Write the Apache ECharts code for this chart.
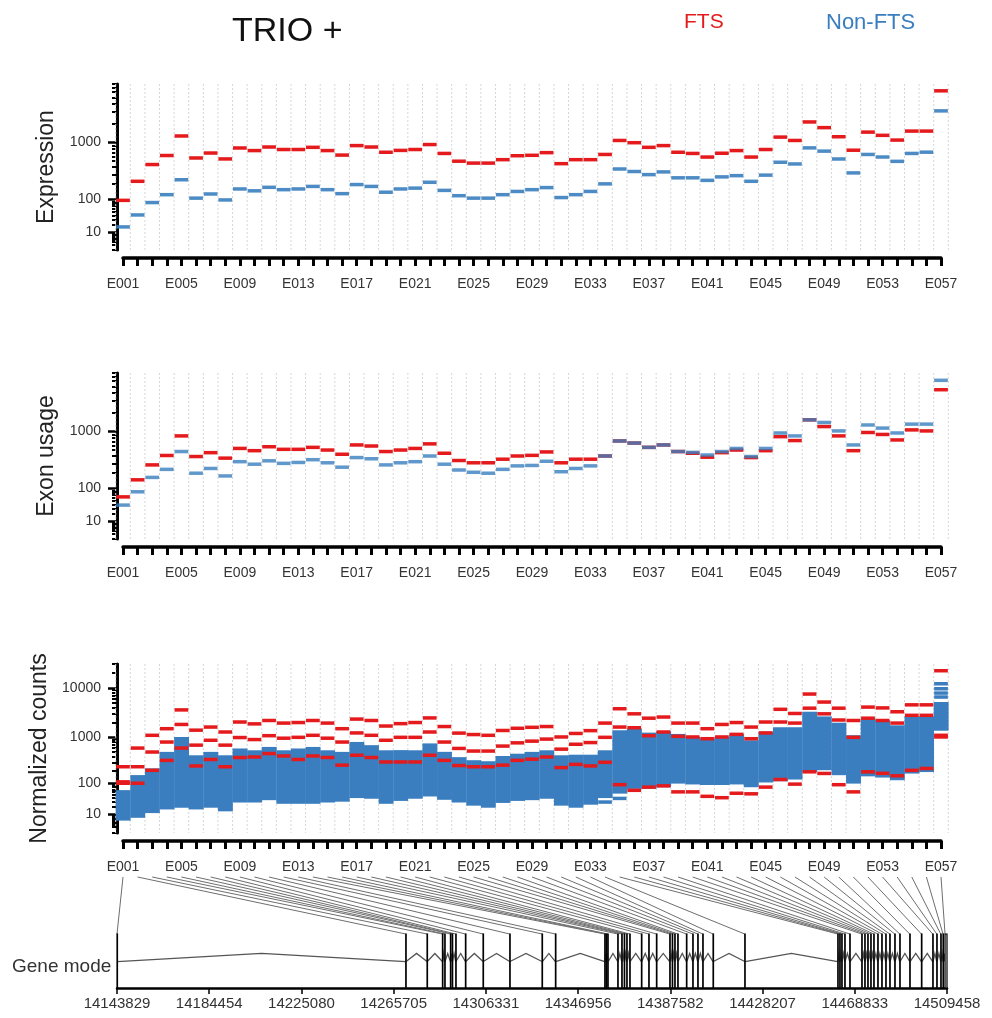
<!DOCTYPE html>
<html><head><meta charset="utf-8">
<script src="https://cdn.jsdelivr.net/npm/echarts@6/dist/echarts.min.js"></script>
<style>html,body{margin:0;padding:0;background:#fff}#c{width:992px;height:1018px}</style>
</head><body><div id="c"></div>
<script>
// ---------------- data ----------------
const exonLabels = Array.from({length: 57}, (_, i) => 'E' + String(i + 1).padStart(3, '0'));

const expFTS = [95,225,440,620,1270,565,680,545,820,745,850,775,775,840,745,630,895,850,700,750,775,930,670,500,465,465,530,615,625,690,455,530,530,645,1080,995,840,895,700,670,585,675,745,585,775,1220,1080,2100,1715,1235,755,1460,1300,1095,1515,1515,6300];
const expNon = [17,42,85,125,240,106,129,97,162,149,174,157,162,181,157,131,196,181,140,162,168,216,152,119,106,106,125,145,157,172,109,125,145,202,370,335,296,330,260,260,234,270,284,225,290,480,450,823,730,544,317,645,586,497,670,702,3110];

const useFTS = [64,149,281,408,853,392,455,368,535,491,570,517,517,557,503,428,610,586,475,503,535,635,445,335,306,306,353,400,410,468,306,353,353,400,708,655,557,610,475,445,382,455,503,376,491,830,718,1530,1200,853,491,967,900,735,1063,1024,4450];
const useNon = [39,84,166,234,475,199,243,177,320,289,331,299,310,346,306,256,376,359,281,306,320,400,289,228,207,199,234,270,275,325,212,243,270,400,708,655,557,610,475,460,416,475,535,392,535,950,853,1530,1390,1024,610,1270,1135,950,1310,1310,6190];

// normalized counts: three FTS samples
const ncFTS1 = [240,600,1100,1500,3600,1400,1620,1285,2050,1880,2200,1950,2000,2200,1950,1500,2350,2200,1700,1900,2000,2480,1660,1220,1140,1100,1380,1530,1600,1660,1017,1200,1370,1950,3800,3000,2450,2585,1950,1950,1500,1830,2000,1620,2050,3700,3050,7500,5180,3900,2200,4100,3950,3300,4550,4550,22000];
const ncFTS2 = [108,240,496,800,1830,690,870,690,990,900,1080,960,1000,1100,960,800,1230,1100,870,1000,1000,1285,800,590,520,520,660,770,835,920,570,720,780,1000,1620,1570,1080,1285,1050,1017,937,1017,1150,937,1230,2050,1950,3900,3000,2250,1000,2450,2200,1950,2800,2800,1100];
const ncFTS3 = [100,100,200,330,600,250,345,240,380,390,460,410,345,410,380,260,425,380,305,305,305,425,330,255,240,240,260,330,350,390,230,270,250,300,92,66,80,86,60,60,45,41,55,53,80,123,95,185,170,92,60,185,171,150,200,220,1017];
// normalized counts: range covered by the Non-FTS samples
const ncNonLow = [5.5,8,13.5,19,22,19,22,16,33,33,39,30,30,30,33,35,45,43,30,37,43,50,40,33,26,22,32,37,39,43,26,22,28,45,60,80,80,88,108,103,100,100,103,88,115,123,135,200,220,170,108,160,150,130,185,200,1480];
const ncNonHigh = [60,142,202,459,937,389,459,389,541,496,583,496,541,583,496,459,740,634,496,500,496,690,460,355,305,290,375,420,459,496,389,400,400,496,1285,1390,1150,1230,1080,937,870,937,1080,800,1200,1480,1480,3050,2450,1830,1017,2250,2050,1620,2450,2450,4790];
const ncNonExtra = [[57,12060],[57,9580],[57,7850],[57,6530],[35,39],[34,30]];

// gene model (genomic coordinates)
const exonStart = [14143829,14271010,14280393,14287177,14288191,14290702,14291495,14293037,14297310,14305063,14316825,14331054,14336957,14358676,14359336,14359997,14364402,14366164,14367266,14368367,14369689,14374843,14378059,14381451,14387310,14388411,14389513,14390834,14394667,14397442,14399645,14401849,14406385,14420350,14461319,14462200,14463082,14464404,14466607,14471893,14473213,14474535,14475856,14477178,14478940,14480702,14482464,14484227,14486429,14488632,14493037,14498191,14503169,14504931,14506694,14507700,14508600];
const exonEnd = [14144010,14271190,14280520,14287290,14288330,14290850,14291600,14293160,14297450,14305200,14316960,14331200,14337120,14358900,14359560,14360220,14364560,14366300,14367400,14368500,14369830,14374990,14378200,14381600,14387480,14388560,14389660,14390990,14394800,14397580,14399780,14401990,14406530,14420500,14461480,14462340,14463220,14464540,14466760,14472040,14473350,14474670,14475990,14477320,14479080,14480840,14482600,14484370,14486570,14488780,14493180,14498340,14503320,14505080,14506840,14507900,14509458];
const geneTicks = [14143829,14184454,14225080,14265705,14306331,14346956,14387582,14428207,14468833,14509458];

const majorTicksA = [10, 100, 1000];
const majorTicksB = [10, 100, 1000, 10000];
const axisMaxA = 8000, axisMaxB = 30000;

// ---------------- helpers ----------------
const FONT = "'Liberation Sans', Arial, sans-serif";
const RED = '#e41a1c', BLUE = '#3a7ebf';
const tfA = v => Math.asinh(Math.sqrt(0.01 * v));   // variance-stabilised scale (panels 1-2)
const tfB = v => Math.asinh(Math.sqrt(0.02 * v));   // variance-stabilised scale (panel 3)

const exonIdx = exonLabels.map((_, i) => i + 1);
const labelIdx = exonIdx.filter(i => (i - 1) % 4 === 0);
const boundaries = [0].concat(exonIdx).map(i => i + 0.5);
function minorTicks(maxV) {
  const out = [0, 1];
  for (let d = 1; d <= maxV; d *= 10) for (let m = 2; m <= 9; m++) { const v = m * d; if (v <= maxV) out.push(v); }
  return out;
}

function xAxisPanel(gi) {
  return {
    type: 'value', gridIndex: gi, min: 1, max: 57, offset: 8,
    axisLine: {show: true, onZero: false, lineStyle: {color: '#000', width: 3.5}},
    axisTick: {show: true, customValues: exonIdx, length: 8, lineStyle: {color: '#000', width: 3}},
    axisLabel: {show: true, customValues: labelIdx, formatter: v => exonLabels[Math.round(v) - 1],
      margin: 19, fontSize: 14, color: '#333', fontFamily: FONT},
    splitLine: {show: false}
  };
}
function yAxesPanel(gi, tf, maxV, majors, name) {
  const mj = majors.map(tf);
  return [{
    type: 'value', gridIndex: gi, min: 0, max: tf(maxV), offset: 6, position: 'left',
    name: name, nameLocation: 'middle', nameGap: 59, nameRotate: 90,
    nameTextStyle: {fontSize: 23, color: '#222', fontFamily: FONT},
    axisLine: {show: true, onZero: false, lineStyle: {color: '#000', width: 3}},
    axisTick: {show: true, customValues: mj, length: 9, lineStyle: {color: '#000', width: 2.5}},
    axisLabel: {show: true, customValues: mj, margin: 16, fontSize: 14, color: '#333', fontFamily: FONT,
      formatter: v => { let best = majors[0]; majors.forEach(t => { if (Math.abs(tf(t) - v) < Math.abs(tf(best) - v)) best = t; }); return String(best); }},
    splitLine: {show: false}
  }, {
    type: 'value', gridIndex: gi, min: 0, max: tf(maxV), offset: 6, position: 'left',
    axisLine: {show: false},
    axisTick: {show: true, customValues: minorTicks(maxV).map(tf), length: 5, lineStyle: {color: '#000', width: 2}},
    axisLabel: {show: false}, splitLine: {show: false}
  }];
}
function vgrid(xi, yi) {
  return {type: 'custom', xAxisIndex: xi, yAxisIndex: yi, silent: true, clip: false, z: 1,
    data: boundaries.map(b => [b, 0]),
    renderItem: (params, api) => {
      const cs = params.coordSys;
      const x = api.coord([api.value(0), 0])[0];
      return {type: 'line', shape: {x1: x, y1: cs.y, x2: x, y2: cs.y + cs.height},
        style: {stroke: '#d6d6d6', lineWidth: 1, lineDash: [2, 2]}};
    }};
}
function segSeries(name, xi, yi, values, tf, color, opacity, z) {
  return {type: 'custom', name: name, xAxisIndex: xi, yAxisIndex: yi, silent: true, clip: false, z: z,
    data: values.map((v, i) => [i + 1, tf(v)]),
    renderItem: (params, api) => {
      const x = api.value(0), y = api.value(1);
      const p1 = api.coord([x - 0.47, y]), p2 = api.coord([x + 0.47, y]);
      return {type: 'line', shape: {x1: p1[0], y1: p1[1], x2: p2[0], y2: p2[1]},
        style: {stroke: color, lineWidth: 3.5, opacity: opacity}};
    }};
}
function pointSeries(name, xi, yi, pairs, tf, color, z) {
  return {type: 'custom', name: name, xAxisIndex: xi, yAxisIndex: yi, silent: true, clip: false, z: z,
    data: pairs.map(p => [p[0], tf(p[1])]),
    renderItem: (params, api) => {
      const x = api.value(0), y = api.value(1);
      const p1 = api.coord([x - 0.47, y]), p2 = api.coord([x + 0.47, y]);
      return {type: 'line', shape: {x1: p1[0], y1: p1[1], x2: p2[0], y2: p2[1]},
        style: {stroke: color, lineWidth: 3.5}};
    }};
}
function bandSeries(name, xi, yi, lows, highs, tf, color, z) {
  return {type: 'custom', name: name, xAxisIndex: xi, yAxisIndex: yi, silent: true, clip: false, z: z,
    data: lows.map((v, i) => [i + 1, tf(v), tf(highs[i])]),
    renderItem: (params, api) => {
      const x = api.value(0);
      const pLo = api.coord([x - 0.5, api.value(1)]), pHi = api.coord([x + 0.5, api.value(2)]);
      return {type: 'rect', shape: {x: pLo[0], y: pHi[1] - 1.75, width: pHi[0] - pLo[0] + 0.3, height: pLo[1] - pHi[1] + 3.5},
        style: {fill: color}};
    }};
}

// ---------------- option ----------------
const chart = echarts.init(document.getElementById('c'), null, {renderer: 'canvas'});

const yA0 = yAxesPanel(0, tfA, axisMaxA, majorTicksA, 'Expression');
const yA1 = yAxesPanel(1, tfA, axisMaxA, majorTicksA, 'Exon usage');
const yA2 = yAxesPanel(2, tfB, axisMaxB, majorTicksB, 'Normalized counts');

const option = {
  animation: false,
  backgroundColor: '#fff',
  textStyle: {fontFamily: FONT},
  grid: [
    {left: 123, right: 51, top: 84, bottom: 768},
    {left: 123, right: 51, top: 373, bottom: 479},
    {left: 123, right: 51, top: 664, bottom: 185},
    {left: 117, right: 45, top: 934, bottom: 30}
  ],
  xAxis: [xAxisPanel(0), xAxisPanel(1), xAxisPanel(2), {
    type: 'value', gridIndex: 3, min: geneTicks[0], max: geneTicks[geneTicks.length - 1],
    axisLine: {show: true, onZero: false, lineStyle: {color: '#000', width: 2.5}},
    axisTick: {show: true, customValues: geneTicks, length: 6, lineStyle: {color: '#000', width: 1.5}},
    axisLabel: {show: true, customValues: geneTicks, formatter: v => String(Math.round(v)),
      margin: 8, fontSize: 15, color: '#333', fontFamily: FONT},
    splitLine: {show: false}
  }],
  yAxis: [yA0[0], yA0[1], yA1[0], yA1[1], yA2[0], yA2[1],
    {type: 'value', gridIndex: 3, min: 0, max: 1, show: false}],
  graphic: [
    {type: 'text', left: 232, top: 15, style: {text: 'TRIO +', font: '34px ' + FONT, fill: '#111'}},
    {type: 'text', left: 684, top: 12, style: {text: 'FTS', font: '21px ' + FONT, fill: RED}},
    {type: 'text', left: 826, top: 12, style: {text: 'Non-FTS', font: '22px ' + FONT, fill: BLUE}},
    {type: 'text', left: 12, top: 957, style: {text: 'Gene mode', font: '19px ' + FONT, fill: '#333'}}
  ],
  series: [
    vgrid(0, 0), vgrid(1, 2), vgrid(2, 4),
    segSeries('FTS', 0, 0, expFTS, tfA, RED, 1, 5),
    segSeries('Non-FTS', 0, 0, expNon, tfA, BLUE, 0.9, 6),
    segSeries('FTS', 1, 2, useFTS, tfA, RED, 1, 5),
    segSeries('Non-FTS', 1, 2, useNon, tfA, BLUE, 0.8, 6),
    bandSeries('Non-FTS', 2, 4, ncNonLow, ncNonHigh, tfB, BLUE, 4),
    pointSeries('Non-FTS', 2, 4, ncNonExtra, tfB, BLUE, 4),
    segSeries('FTS', 2, 4, ncFTS1, tfB, RED, 1, 6),
    segSeries('FTS', 2, 4, ncFTS2, tfB, RED, 1, 6),
    segSeries('FTS', 2, 4, ncFTS3, tfB, RED, 1, 6),
    // introns
    {type: 'custom', xAxisIndex: 3, yAxisIndex: 6, silent: true, clip: false, z: 3,
      data: exonEnd.slice(0, -1).map((e, i) => [e, exonStart[i + 1]]),
      renderItem: (params, api) => {
        const a = api.value(0), b = api.value(1);
        const p1 = api.coord([a, 0.49]), p2 = api.coord([(a + b) / 2, 0.64]), p3 = api.coord([b, 0.49]);
        return {type: 'polyline', shape: {points: [p1, p2, p3]}, style: {stroke: '#555', lineWidth: 1.3, fill: null}};
      }},
    // exons
    {type: 'custom', xAxisIndex: 3, yAxisIndex: 6, silent: true, clip: false, z: 4,
      data: exonStart.map((s, i) => [s, exonEnd[i]]),
      renderItem: (params, api) => {
        const p1 = api.coord([api.value(0), 1]), p2 = api.coord([api.value(1), 0]);
        const w = Math.max(p2[0] - p1[0], 0.5);
        return {type: 'rect', shape: {x: p1[0], y: p1[1], width: w, height: p2[1] - p1[1]},
          style: {fill: '#fff', stroke: '#000', lineWidth: 1.2}};
      }},
    // links from exon labels to gene model
    {id: 'fan', type: 'custom', xAxisIndex: 3, yAxisIndex: 6, silent: true, clip: false, z: 2,
      data: exonStart.map((s, i) => [s, i + 1]),
      renderItem: (params, api) => {
        const bot = api.coord([api.value(0), 1]);
        let tx;
        try { tx = chart.convertToPixel({xAxisIndex: 2}, api.value(1)); } catch (e) { return null; }
        if (tx == null || isNaN(tx)) return null;
        return {type: 'line', shape: {x1: tx, y1: bot[1] - 57, x2: bot[0], y2: bot[1]},
          style: {stroke: '#6e6e6e', lineWidth: 1}};
      }}
  ]
};
chart.setOption(option);
chart.setOption({series: [{id: 'fan', data: exonStart.map((s, i) => [s, i + 1])}]});
</script></body></html>
